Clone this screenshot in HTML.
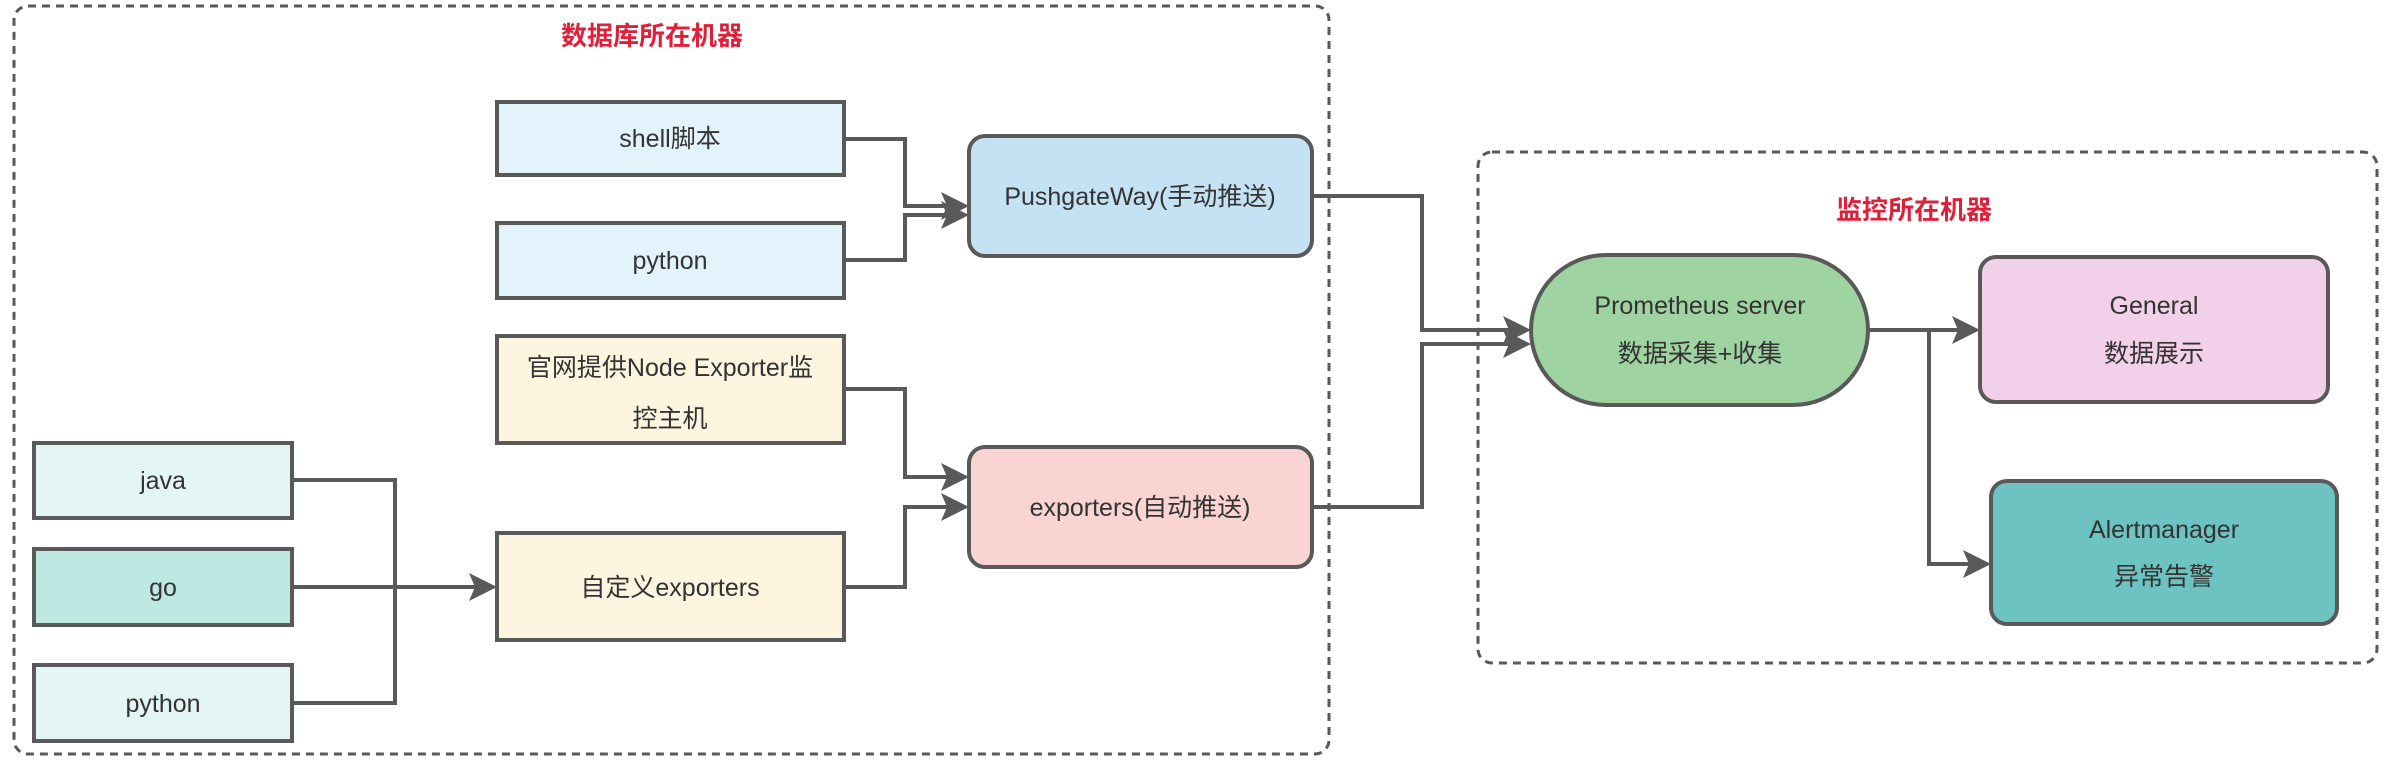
<!DOCTYPE html>
<html><head><meta charset="utf-8"><style>
html,body{margin:0;padding:0;background:#fff;}
svg text{font-family:"Liberation Sans","Noto Sans CJK SC",sans-serif;fill:#333;}
</style></head><body>
<svg width="2396" height="760" viewBox="0 0 2396 760" xmlns="http://www.w3.org/2000/svg">
<defs>
<marker id="a" markerWidth="7" markerHeight="7" refX="6" refY="3.5" orient="auto" markerUnits="strokeWidth">
<path d="M0,0 L7,3.5 L0,7 L1.5,3.5 z" fill="#595959"/>
</marker>
</defs>
<rect x="14" y="6" width="1315" height="748" rx="14" fill="none" stroke="#595959" stroke-width="3" stroke-dasharray="8,6"/>
<rect x="1478" y="152" width="899" height="511" rx="14" fill="none" stroke="#595959" stroke-width="3" stroke-dasharray="8,6"/>
<text x="652" y="45" text-anchor="middle" font-size="26" font-weight="bold" style="fill:#e0203a">数据库所在机器</text>
<text x="1914" y="219" text-anchor="middle" font-size="26" font-weight="bold" style="fill:#e0203a">监控所在机器</text>

<g stroke="#595959" stroke-width="4">
<rect x="497" y="102" width="347" height="73" fill="#e3f3fb"/>
<rect x="497" y="223" width="347" height="75" fill="#e3f3fb"/>
<rect x="969" y="136" width="343" height="120" rx="16" fill="#c4e2f4"/>
<rect x="497" y="336" width="347" height="107" fill="#fdf5e0"/>
<rect x="497" y="533" width="347" height="107" fill="#fdf5e0"/>
<rect x="969" y="447" width="343" height="120" rx="16" fill="#f9d4d3"/>
<rect x="34" y="443" width="258" height="75" fill="#e3f6f3"/>
<rect x="34" y="549" width="258" height="76" fill="#bde9e2"/>
<rect x="34" y="665" width="258" height="76" fill="#e3f6f3"/>
<rect x="1531" y="255" width="337" height="150" rx="75" ry="75" fill="#9fd4a2"/>
<rect x="1980" y="257" width="348" height="145" rx="16" fill="#f2d0e9"/>
<rect x="1991" y="481" width="346" height="143" rx="16" fill="#6cc3c2"/>
</g>

<g fill="none" stroke="#595959" stroke-width="4">
<path d="M844,139 H905 V206 H965" marker-end="url(#a)"/>
<path d="M844,260 H905 V215 H965" marker-end="url(#a)"/>
<path d="M844,389 H905 V477 H965" marker-end="url(#a)"/>
<path d="M844,587 H905 V507 H965" marker-end="url(#a)"/>
<path d="M292,480 H395 V703 H292"/>
<path d="M292,587 H493" marker-end="url(#a)"/>
<path d="M1312,196 H1422 V330 H1527" marker-end="url(#a)"/>
<path d="M1312,507 H1422 V344 H1527" marker-end="url(#a)"/>
<path d="M1868,330 H1976" marker-end="url(#a)"/>
<path d="M1929,330 V564 H1987" marker-end="url(#a)"/>
</g>

<g font-size="25" text-anchor="middle">
<text x="670" y="147">shell脚本</text>
<text x="670" y="269">python</text>
<text x="1140" y="205">PushgateWay(手动推送)</text>
<text x="670" y="376">官网提供Node Exporter监</text>
<text x="670" y="427">控主机</text>
<text x="670" y="596">自定义exporters</text>
<text x="1140" y="516">exporters(自动推送)</text>
<text x="163" y="489">java</text>
<text x="163" y="596">go</text>
<text x="163" y="712">python</text>
<text x="1700" y="314">Prometheus server</text>
<text x="1700" y="362">数据采集+收集</text>
<text x="2154" y="314">General</text>
<text x="2154" y="362">数据展示</text>
<text x="2164" y="538">Alertmanager</text>
<text x="2164" y="585">异常告警</text>
</g>
</svg>
</body></html>
